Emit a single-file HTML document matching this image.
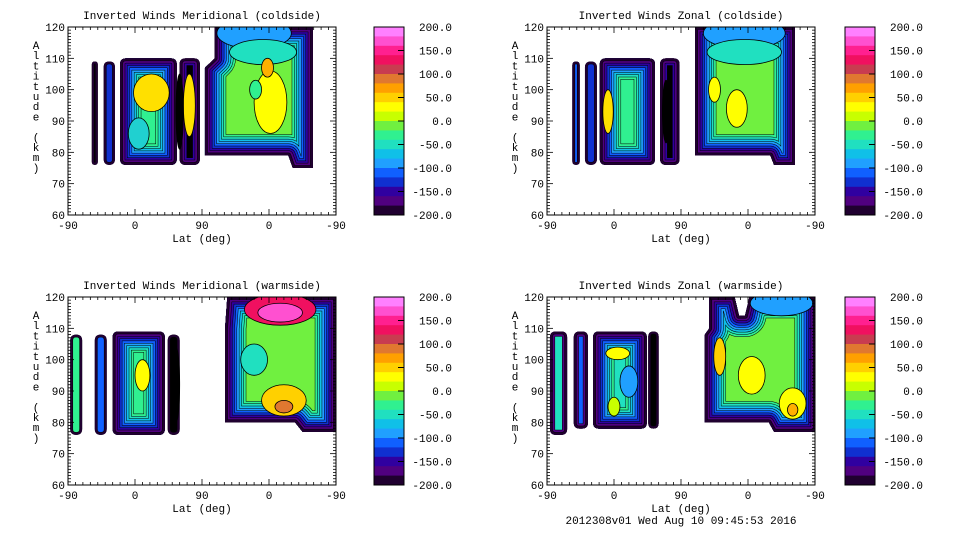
<!DOCTYPE html>
<html><head><meta charset="utf-8">
<style>
html,body{margin:0;padding:0;background:#fff;}
svg{display:block;font-family:"Liberation Mono","DejaVu Sans Mono",monospace;}
</style></head>
<body>
<svg id="chart" width="960" height="540" viewBox="0 0 960 540"></svg>
<script>
// ---- data (u = along-track coordinate 0..360; left half lat -90..90, right half 90..-90) ----
const xTickLabels = ["-90","0","90","0","-90"];
const yTicks = [60,70,80,90,100,110,120];
const cbarLabels = ["200.0","150.0","100.0","50.0","0.0","-50.0","-100.0","-150.0","-200.0"];
const cbarColors = ["#ff80ff","#ff50d0","#ff2090","#f01060","#c83c50","#e07830","#ffa000","#ffd000","#ffff00","#c8ff00","#70f040","#30f090","#20e0c0","#10c0e8","#20a0ff","#1060ff","#1030d0","#3000a0","#500080","#200030"];
const panelTitles = ["Inverted Winds Meridional (coldside)","Inverted Winds Zonal (coldside)","Inverted Winds Meridional (warmside)","Inverted Winds Zonal (warmside)"];
// blobs: [u0,u1,altLow,altHigh,coreColor]
const blobs1 = [[32,40,76,109,"#000000"],[48,63,76,109,"#1030d0"],[70,146,76,110,"#30f090"],[150,177,76,110,"#000000"]];
const blobs2 = [[34,44,76,109,"#1060ff"],[51,67,76,109,"#1030d0"],[71,145,76,110,"#30f090"],[152,178,76,110,"#000000"]];
const blobs3 = [[3,19,76,108,"#30f090"],[36,52,76,108,"#1060ff"],[60,130,76,109,"#30f090"],[134,150,76,108,"#000000"]];
const blobs4 = [[4,27,76,109,"#20e0c0"],[36,55,78,109,"#1060ff"],[62,134,78,109,"#20e0c0"],[136,150,78,109,"#000000"]];
// big region polygons: [u,alt] vertices
const region1 = [[197,120],[329,120],[329,75],[302,75],[296,79],[184,79],[184,107],[197,110]];
const region2 = [[199,120],[333,120],[333,76],[305,76],[300,79],[199,79]];
const region3 = [[214,120],[360,120],[360,77],[315,77],[305,80],[211,80],[211,110]];
const region4 = [[218,120],[252,120],[258,114],[266,114],[272,120],[361,120],[361,77],[305,77],[298,80],[212,80],[212,108],[218,110]];
// patches: [uCenter,altCenter,uRadius,altRadius,color]
const patches1 = [[250,118,50,5,"#20a0ff"],[262,112,45,4,"#20e0c0"],[112,99,24,6,"#ffe000"],[95,86,14,5,"#20d0d0"],[163,95,8,10,"#ffe000"],[272,96,22,10,"#ffff00"],[268,107,8,3,"#ffb000"],[252,100,8,3,"#30f090"],[150,93,5,12,"#000000"]];
const patches2 = [[265,118,55,5,"#20a0ff"],[265,112,50,4,"#20e0c0"],[82,93,7,7,"#ffe000"],[255,94,14,6,"#ffff00"],[225,100,8,4,"#ffff00"],[160,93,5,10,"#000000"]];
const patches3 = [[285,116,48,5,"#f01060"],[285,115,30,3,"#ff50d0"],[290,87,30,5,"#ffd000"],[290,85,12,2,"#e07830"],[100,95,10,5,"#ffff00"],[250,100,18,5,"#20e0c0"],[145,92,5,12,"#000000"]];
const patches4 = [[315,118,42,4,"#20a0ff"],[232,101,8,6,"#ffd000"],[275,95,18,6,"#ffff00"],[330,86,18,5,"#ffff00"],[330,84,7,2,"#ffb000"],[110,93,12,5,"#20a0ff"],[90,85,8,3,"#c8ff00"],[95,102,16,2,"#ffff00"]];

const ringColors = ["#200030","#500080","#3000a0","#1030d0","#1060ff","#20a0ff","#10c0e8","#20e0c0","#30f090"];
const panels = [
 {x0:68,y0:27,title:panelTitles[0],blobs:blobs1,region:region1,patches:patches1,cx:374},
 {x0:547,y0:27,title:panelTitles[1],blobs:blobs2,region:region2,patches:patches2,cx:845},
 {x0:68,y0:297,title:panelTitles[2],blobs:blobs3,region:region3,patches:patches3,cx:374},
 {x0:547,y0:297,title:panelTitles[3],blobs:blobs4,region:region4,patches:patches4,cx:845}
];
const W=268,H=188,NS="http://www.w3.org/2000/svg",SP=2.3;
const svg=document.getElementById('chart');
function mk(tag,attrs,parent){const e=document.createElementNS(NS,tag);for(const k in attrs)e.setAttribute(k,attrs[k]);(parent||svg).appendChild(e);return e;}
let clipId=0;
function ringed(pathD,core,g,maxRings){
  const id='c'+(clipId++);
  const cp=mk('clipPath',{id:id},g);mk('path',{d:pathD},cp);
  const sub=mk('g',{'clip-path':'url(#'+id+')'},g);
  mk('path',{d:pathD,fill:core},sub);
  const n=Math.min(maxRings,ringColors.length);
  for(let i=n-1;i>=0;i--){
    const d=(i+1)*SP;
    mk('path',{d:pathD,fill:'none',stroke:'#000','stroke-width':2*d+1,'stroke-linejoin':'round'},sub);
    mk('path',{d:pathD,fill:'none',stroke:ringColors[i],'stroke-width':2*d,'stroke-linejoin':'round'},sub);
  }
  return id;
}
panels.forEach((p,pi)=>{
  const g=mk('g',{});
  
  
  const X=u=>p.x0+u/360*W, Y=a=>p.y0+(120-a)/60*H;
  const t=mk('text',{x:p.x0+W/2,y:p.y0-8,'text-anchor':'middle','font-size':11},g);t.textContent=p.title;
  
  
  const pcId='pc'+pi;
  const pcp=mk('clipPath',{id:pcId},g);mk('rect',{x:p.x0,y:p.y0,width:W,height:H},pcp);
  const inner=mk('g',{'clip-path':'url(#'+pcId+')'},g);
  p.blobs.forEach(b=>{
    const x1=X(b[0]),x2=X(b[1]),y1=Y(b[3]),y2=Y(b[2]),r=Math.min(6,(x2-x1)/2);
    const d=`M${x1+r},${y1}H${x2-r}Q${x2},${y1} ${x2},${y1+r}V${y2-r}Q${x2},${y2} ${x2-r},${y2}H${x1+r}Q${x1},${y2} ${x1},${y2-r}V${y1+r}Q${x1},${y1} ${x1+r},${y1}Z`;
    const bg=mk('g',{},inner);
    
    
    ringed(d,b[4],bg,Math.max(1,Math.floor((x2-x1)/2/SP)-1));
  });
  const rd='M'+p.region.map(v=>X(v[0])+','+Y(v[1])).join('L')+'Z';
  const rg=mk('g',{},inner);
  
  
  const rid=ringed(rd,'#70f040',rg,9);
  const regPatchG=mk('g',{'clip-path':'url(#'+rid+')'},inner);
  p.patches.forEach(q=>{
    const par=q[0]>180?regPatchG:inner;
    const e=mk('ellipse',{cx:X(q[0]),cy:Y(q[1]),rx:q[2]/360*W,ry:q[3]/60*H,fill:q[4],stroke:'#000','stroke-width':0.8},par);
    
    
  });
  const fr=mk('rect',{x:p.x0,y:p.y0,width:W,height:H,fill:'none',stroke:'#000','stroke-width':1},g);
  
  
  for(let a=60;a<=120;a++){const L=a%10==0?6:3;
    mk('line',{x1:p.x0,x2:p.x0+L,y1:Y(a),y2:Y(a),stroke:'#000','stroke-width':0.8},g);
    mk('line',{x1:p.x0+W,x2:p.x0+W-L,y1:Y(a),y2:Y(a),stroke:'#000','stroke-width':0.8},g);}
  for(let u=0;u<=360;u+=10){const L=u%90==0?6:3;
    mk('line',{x1:X(u),x2:X(u),y1:p.y0+H,y2:p.y0+H-L,stroke:'#000','stroke-width':0.8},g);
    mk('line',{x1:X(u),x2:X(u),y1:p.y0,y2:p.y0+L,stroke:'#000','stroke-width':0.8},g);}
  yTicks.forEach(a=>{const tt=mk('text',{x:p.x0-3,y:Y(a)+4,'text-anchor':'end','font-size':11},g);tt.textContent=a;
    
    });
  xTickLabels.forEach((s,i)=>{const tt=mk('text',{x:X(i*90),y:p.y0+H+14,'text-anchor':'middle','font-size':11},g);tt.textContent=s;
    
    });
  const xl=mk('text',{x:p.x0+W/2,y:p.y0+H+27,'text-anchor':'middle','font-size':11},g);xl.textContent='Lat (deg)';
  
  
  const yl=mk('text',{x:p.x0-32,y:p.y0+22,'text-anchor':'middle','font-size':11},g);
  
  
  'Altitude (km)'.split('').forEach((c,i)=>{const ts=mk('tspan',{x:p.x0-32,y:p.y0+22+i*10.2},yl);ts.textContent=c;});
  const cb=mk('g',{},g);
  
  
  const bh=H/cbarColors.length;
  cbarColors.forEach((c,i)=>mk('rect',{x:p.cx,y:p.y0+i*bh,width:30,height:bh+0.5,fill:c},cb));
  mk('rect',{x:p.cx,y:p.y0,width:30,height:H,fill:'none',stroke:'#000','stroke-width':1},cb);
  cbarLabels.forEach((s,i)=>{const yy=p.y0+i*H/8;
    mk('line',{x1:p.cx+24,x2:p.cx+30,y1:yy,y2:yy,stroke:'#000'},cb);
    const tt=mk('text',{x:p.cx+78,y:yy+4,'text-anchor':'end','font-size':11},cb);tt.textContent=s;
    
    });
});
const ts=mk('text',{x:681,y:524,'text-anchor':'middle','font-size':11});
ts.textContent='2012308v01 Wed Aug 10 09:45:53 2016';


</script>
</body></html>
